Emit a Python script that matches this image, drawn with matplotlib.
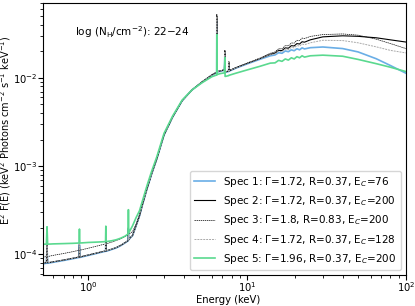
import matplotlib
matplotlib.use("Agg")
import matplotlib.pyplot as plt

# energy grid (keV)
energy = [0.52, 0.545, 0.55, 0.555, 0.6, 0.7, 0.8, 0.875, 0.88, 0.885,
          1.0, 1.1, 1.2, 1.285, 1.29, 1.295, 1.4, 1.5, 1.6, 1.7,
          1.785, 1.79, 1.795, 1.85, 1.9, 2.0, 2.1, 2.2, 2.35, 2.5,
          2.7, 3.0, 3.4, 3.9, 4.5, 5.2, 6.0, 6.44, 6.45, 6.46,
          6.8, 7.2, 7.25, 7.27, 7.3, 7.65, 7.68, 7.7, 8.5, 10,
          12, 14, 15.0, 15.8, 16.6, 17.4, 18.2, 19.0, 19.8, 20.6,
          21.4, 22.2, 23.0, 25, 30, 40, 50, 65, 80, 100]

spec1 = [7.8e-5, 7.9e-5, 1.2e-4, 7.9e-5, 8.1e-5, 8.5e-5, 8.9e-5, 9.2e-5, 1.28e-4, 9.2e-5,
         9.7e-5, 1.01e-4, 1.05e-4, 1.08e-4, 1.42e-4, 1.08e-4, 1.13e-4, 1.18e-4, 1.25e-4, 1.34e-4,
         1.42e-4, 1.95e-4, 1.45e-4, 1.55e-4, 1.62e-4, 2.1e-4, 2.7e-4, 3.7e-4, 5.6e-4, 8.0e-4,
         1.2e-3, 2.25e-3, 3.6e-3, 5.5e-3, 7.3e-3, 8.9e-3, 1.07e-2, 1.15e-2, 4.5e-2, 1.16e-2,
         1.19e-2, 1.22e-2, 1.9e-2, 1.15e-2, 1.16e-2, 1.18e-2, 1.4e-2, 1.19e-2, 1.29e-2, 1.44e-2,
         1.62e-2, 1.78e-2, 1.82e-2, 1.93e-2, 1.90e-2, 2.02e-2, 1.98e-2, 2.08e-2, 2.03e-2, 2.14e-2,
         2.08e-2, 2.19e-2, 2.13e-2, 2.2e-2, 2.24e-2, 2.15e-2, 1.97e-2, 1.65e-2, 1.38e-2, 1.13e-2]

spec2 = [8.0e-5, 8.0e-5, 1.25e-4, 8.0e-5, 8.2e-5, 8.6e-5, 9.0e-5, 9.3e-5, 1.32e-4, 9.3e-5,
         9.8e-5, 1.02e-4, 1.06e-4, 1.09e-4, 1.46e-4, 1.09e-4, 1.14e-4, 1.19e-4, 1.26e-4, 1.35e-4,
         1.43e-4, 2.0e-4, 1.46e-4, 1.56e-4, 1.63e-4, 2.1e-4, 2.7e-4, 3.7e-4, 5.6e-4, 8.0e-4,
         1.2e-3, 2.25e-3, 3.6e-3, 5.5e-3, 7.3e-3, 9.0e-3, 1.08e-2, 1.16e-2, 5.0e-2, 1.17e-2,
         1.2e-2, 1.23e-2, 2.0e-2, 1.16e-2, 1.17e-2, 1.19e-2, 1.52e-2, 1.2e-2, 1.3e-2, 1.46e-2,
         1.65e-2, 1.85e-2, 1.91e-2, 2.05e-2, 2.04e-2, 2.19e-2, 2.17e-2, 2.32e-2, 2.30e-2, 2.45e-2,
         2.42e-2, 2.57e-2, 2.54e-2, 2.7e-2, 2.92e-2, 3.0e-2, 2.96e-2, 2.85e-2, 2.7e-2, 2.55e-2]

spec3 = [9.3e-5, 9.4e-5, 1.3e-4, 9.4e-5, 9.7e-5, 1.02e-4, 1.07e-4, 1.11e-4, 1.3e-4, 1.11e-4,
         1.17e-4, 1.22e-4, 1.27e-4, 1.31e-4, 1.5e-4, 1.31e-4, 1.37e-4, 1.43e-4, 1.5e-4, 1.58e-4,
         1.66e-4, 2.0e-4, 1.68e-4, 1.75e-4, 1.8e-4, 2.2e-4, 2.8e-4, 3.8e-4, 5.7e-4, 8.1e-4,
         1.21e-3, 2.27e-3, 3.62e-3, 5.5e-3, 7.3e-3, 9.0e-3, 1.08e-2, 1.17e-2, 5.3e-2, 1.18e-2,
         1.21e-2, 1.24e-2, 2.05e-2, 1.17e-2, 1.18e-2, 1.2e-2, 1.5e-2, 1.21e-2, 1.31e-2, 1.47e-2,
         1.67e-2, 1.9e-2, 1.97e-2, 2.14e-2, 2.14e-2, 2.32e-2, 2.31e-2, 2.49e-2, 2.48e-2, 2.67e-2,
         2.64e-2, 2.83e-2, 2.79e-2, 2.95e-2, 3.1e-2, 3.15e-2, 3.05e-2, 2.75e-2, 2.45e-2, 2.15e-2]

spec4 = [8.0e-5, 8.0e-5, 1.25e-4, 8.0e-5, 8.2e-5, 8.6e-5, 9.0e-5, 9.3e-5, 1.32e-4, 9.3e-5,
         9.8e-5, 1.02e-4, 1.06e-4, 1.09e-4, 1.46e-4, 1.09e-4, 1.14e-4, 1.19e-4, 1.26e-4, 1.35e-4,
         1.43e-4, 2.0e-4, 1.46e-4, 1.56e-4, 1.63e-4, 2.1e-4, 2.7e-4, 3.7e-4, 5.6e-4, 8.0e-4,
         1.2e-3, 2.25e-3, 3.6e-3, 5.5e-3, 7.3e-3, 9.0e-3, 1.08e-2, 1.16e-2, 5.0e-2, 1.17e-2,
         1.2e-2, 1.23e-2, 2.0e-2, 1.16e-2, 1.17e-2, 1.19e-2, 1.5e-2, 1.2e-2, 1.3e-2, 1.46e-2,
         1.65e-2, 1.83e-2, 1.87e-2, 2.01e-2, 1.98e-2, 2.12e-2, 2.09e-2, 2.22e-2, 2.19e-2, 2.33e-2,
         2.29e-2, 2.43e-2, 2.38e-2, 2.5e-2, 2.67e-2, 2.65e-2, 2.5e-2, 2.25e-2, 2.05e-2, 1.92e-2]

spec5 = [1.30e-4, 1.30e-4, 2.05e-4, 1.30e-4, 1.31e-4, 1.32e-4, 1.33e-4, 1.34e-4, 1.93e-4, 1.34e-4,
         1.36e-4, 1.37e-4, 1.38e-4, 1.39e-4, 2.08e-4, 1.39e-4, 1.42e-4, 1.46e-4, 1.52e-4, 1.6e-4,
         1.7e-4, 3.2e-4, 1.74e-4, 1.92e-4, 2.1e-4, 2.6e-4, 3.1e-4, 4.1e-4, 6.1e-4, 8.6e-4,
         1.27e-3, 2.35e-3, 3.7e-3, 5.6e-3, 7.3e-3, 8.8e-3, 1.03e-2, 1.08e-2, 3.1e-2, 1.09e-2,
         1.12e-2, 1.14e-2, 1.7e-2, 1.04e-2, 1.04e-2, 1.06e-2, 1.07e-2, 1.07e-2, 1.13e-2, 1.23e-2,
         1.35e-2, 1.47e-2, 1.48e-2, 1.58e-2, 1.54e-2, 1.64e-2, 1.59e-2, 1.69e-2, 1.64e-2, 1.74e-2,
         1.69e-2, 1.78e-2, 1.72e-2, 1.78e-2, 1.81e-2, 1.76e-2, 1.62e-2, 1.45e-2, 1.32e-2, 1.18e-2]

labels = [
    "Spec 1: Γ=1.72, R=0.37, E$_C$=76",
    "Spec 2: Γ=1.72, R=0.37, E$_C$=200",
    "Spec 3: Γ=1.8, R=0.83, E$_C$=200",
    "Spec 4: Γ=1.72, R=0.37, E$_C$=128",
    "Spec 5: Γ=1.96, R=0.37, E$_C$=200",
]

plt.rcParams["font.size"] = 7.5

fig = plt.figure(figsize=(4.15, 3.06), dpi=100)
ax = fig.add_axes([0.104, 0.101, 0.874, 0.888])

ax.plot(energy, spec1, color="#6aaee6", lw=1.2, label=labels[0])
ax.plot(energy, spec2, color="black", lw=0.8, label=labels[1])
ax.plot(energy, spec3, color="black", lw=0.5, ls=(0, (2, 1)), label=labels[2])
ax.plot(energy, spec4, color="#aaaaaa", lw=0.7, ls=(0, (2, 1)), label=labels[3])
ax.plot(energy, spec5, color="#5ad98f", lw=1.2, label=labels[4])

ax.set_xscale("log")
ax.set_yscale("log")
ax.set_xlim(0.52, 100)
ax.set_ylim(5.8e-5, 0.07)
ax.set_xlabel("Energy (keV)", fontsize=7.2)
ax.set_ylabel(r"E$^2$ F(E) (keV$^2$ Photons cm$^{-2}$ s$^{-1}$ keV$^{-1}$)", fontsize=7)
ax.xaxis.set_label_coords(0.51, -0.073)
ax.yaxis.set_label_coords(-0.082, 0.534)
ax.tick_params(which="major", length=3.5, pad=0.5, labelsize=7.2)
ax.tick_params(which="minor", length=2)
ax.text(0.087, 0.894, r"log (N$_{\rm H}$/cm$^{-2}$): 22$-$24", transform=ax.transAxes,
        ha="left", va="center")
ax.legend(loc="lower right", fontsize=7.5)

fig.savefig("out.png", dpi=100)
